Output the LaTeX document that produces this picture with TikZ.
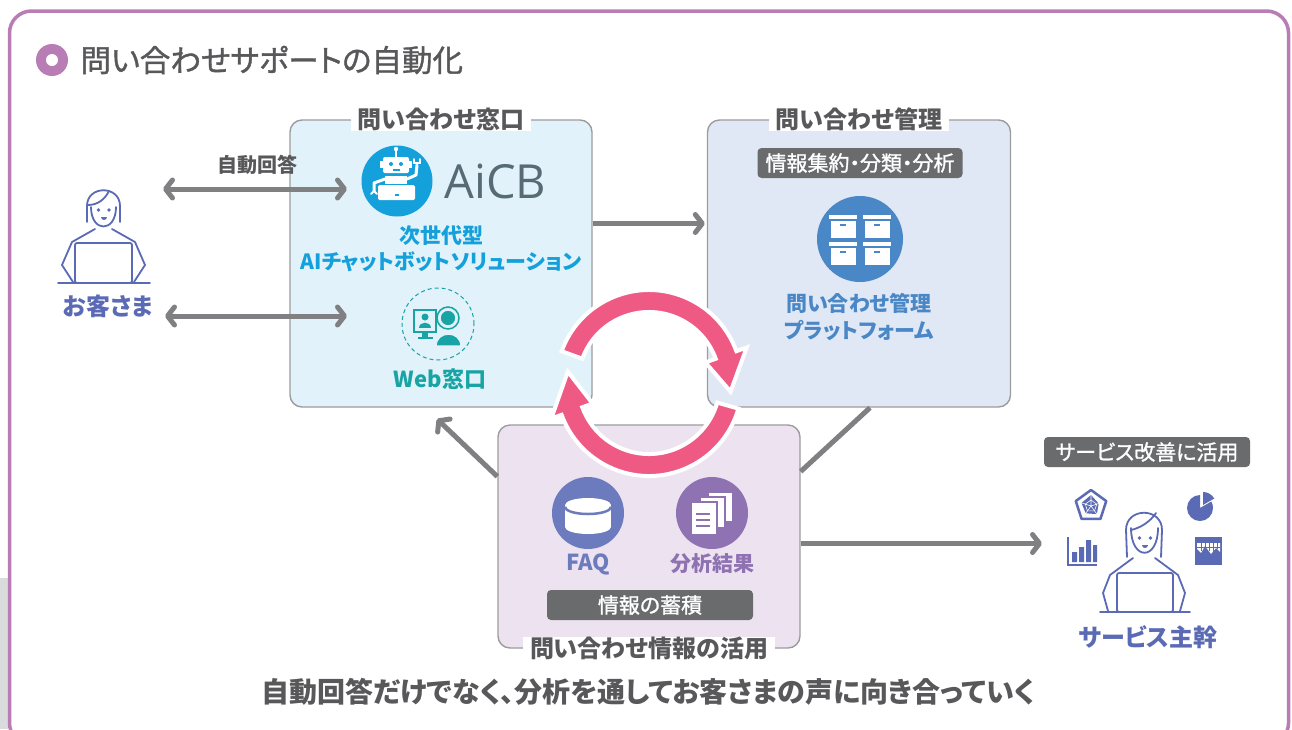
\documentclass[tikz,border=0pt]{standalone}
\usepackage{fontspec}
\setmainfont{Noto Sans CJK JP}[RawFeature=+palt]
\newfontfamily\medfont{Noto Sans CJK JP}[RawFeature=+palt,FakeBold=1.2]
\newfontfamily\logofont{Open Sans}
\usetikzlibrary{arrows.meta,positioning}

\definecolor{frame}{HTML}{B97DB6}
\definecolor{strip}{HTML}{DADBDD}
\definecolor{ink}{HTML}{58585A}
\definecolor{wire}{HTML}{808082}
\definecolor{edge}{HTML}{9C9C9E}
\definecolor{winbg}{HTML}{E1F2FA}
\definecolor{mgrbg}{HTML}{E1E8F5}
\definecolor{usebg}{HTML}{EDE3F0}
\definecolor{aiblue}{HTML}{14A0DB}
\definecolor{logo}{HTML}{566B73}
\definecolor{webteal}{HTML}{18A4A4}
\definecolor{mgrblue}{HTML}{4A87C6}
\definecolor{faqblue}{HTML}{6C7BBE}
\definecolor{resviolet}{HTML}{8F72B2}
\definecolor{people}{HTML}{5B6AB5}
\definecolor{tagbg}{HTML}{6A6B6D}
\definecolor{cyclepink}{HTML}{EF5A84}

\newcommand\fsz[1]{\fontsize{#1pt}{#1pt}\selectfont}

\begin{document}
\begin{tikzpicture}[x=1pt,y=-1pt,
  conn/.style={draw=wire,line width=5pt},
  tip/.style={-{Straight Barb[length=7pt,width=18pt,round]}},
  twotips/.style={{Straight Barb[length=7pt,width=18pt,round]}-{Straight Barb[length=7pt,width=18pt,round]}},
  panel/.style={draw=edge,line width=1.4pt,rounded corners=12pt,inner sep=0pt},
  paneltitle/.style={fill=white,text=ink,font=\fsz{24}\bfseries,inner xsep=7pt,inner ysep=0pt},
  tag/.style={fill=tagbg,text=white,rounded corners=4pt,font=\medfont\fsz{21},minimum height=30pt,inner sep=0pt},
  badge/.style={circle,inner sep=0pt,minimum size=#1},
  caption/.style={font=\fsz{21}\bfseries,inner sep=0pt},
  icon/.style={draw=people,line width=1.8pt,line join=round,line cap=round},
  ringarrow/.style={fill=cyclepink,draw=white,line width=4pt,line join=miter}]

\useasboundingbox (0,0) rectangle (1292,729);
\clip (0,0) rectangle (1292,729);
\fill[white] (0,0) rectangle (1292,729);
\fill[strip] (0,578) rectangle (8,729);

% outer frame and heading
\draw[draw=frame,line width=3.5pt,rounded corners=22pt] (9.5,11) rectangle (1288.5,745);
\fill[frame] (52,60) circle (16pt);
\fill[white] (52,60) circle (6pt);
\node[anchor=west,text=ink,font=\medfont\fsz{30.5}] (heading) at (77,60) {問い合わせサポートの自動化};

% the three panels
\node[panel,fill=winbg,minimum width=302pt,minimum height=287pt] (window) at (441,263.5) {};
\node[panel,fill=mgrbg,minimum width=303pt,minimum height=287pt] (manage) at (859,263.5) {};
\node[panel,fill=usebg,minimum width=302pt,minimum height=223pt] (store) at (649,536.5) {};
\node[paneltitle] (window-title) at (window.north) {問い合わせ窓口};
\node[paneltitle] (manage-title) at (manage.north) {問い合わせ管理};
\node[paneltitle] (store-title) at (store.south) {問い合わせ情報の活用};

% --- inquiry window: chatbot
\node[badge=71pt,fill=aiblue] (robot) at (397,181) {};
\begin{scope}[shift={(397,181)}]
  \fill[white] (-1,-32) circle (2.2pt);
  \draw[white,line width=1.5pt] (-1,-30) -- (-1,-24);
  \fill[white,rounded corners=2pt] (-14,-24) rectangle (12,-8);
  \fill[white] (-17,-20) rectangle (-14,-13);
  \fill[white] (12,-20) rectangle (15,-13);
  \fill[aiblue] (-6,-17) circle (2pt) (4,-17) circle (2pt);
  \fill[aiblue] (-4,-12) rectangle (3,-10.5);
  \fill[white] (-12,-5) rectangle (10,3);
  \draw[white,line width=3pt,line cap=round,line join=round] (-12,-2) -- (-23,2) -- (-23,10);
  \draw[white,line width=2pt,line cap=round] (-26,13) -- (-23,10) -- (-20,13);
  \draw[white,line width=3pt,line cap=round,line join=round] (10,-2) -- (19,-6) -- (20,-16);
  \draw[white,line width=2pt,line cap=round] (17,-22) -- (17,-18) -- (23,-18) -- (23,-22);
  \fill[white,rounded corners=1.5pt] (-19,4) rectangle (18,19);
  \fill[aiblue] (-2,13) rectangle (2,14.5);
\end{scope}
\node[anchor=west,text=logo,font=\logofont\fsz{47}] (aicb) at (441,181) {AiCB};
\node[caption,text=aiblue] (aicb-kind) at (441,236) {次世代型};
\node[caption,text=aiblue] (aicb-name) at (441,262) {AIチャットボットソリューション};

% --- inquiry window: web desk
\node[badge=72pt,draw=webteal,line width=1pt,dash pattern=on 4pt off 3pt] (webdesk) at (438,324) {};
\begin{scope}[shift={(438,324)}]
  \draw[webteal,line width=2pt] (-24,-14) rectangle (-2,8);
  \fill[webteal] (-13,-7) circle (3.5pt);
  \fill[webteal] (-19,4) .. controls (-19,-3) and (-7,-3) .. (-7,4) -- cycle;
  \fill[webteal] (-16,8) rectangle (-10,13);
  \fill[webteal] (-20,13) rectangle (-5,15);
  \draw[webteal,line width=1.5pt] (10,-6) circle (11pt);
  \filldraw[fill=webteal,draw=winbg,line width=1.5pt] (10,-6) circle (8pt);
  \filldraw[fill=webteal,draw=winbg,line width=1.5pt] (-2,22) .. controls (-2,6) and (23,6) .. (23,22) -- cycle;
\end{scope}
\node[caption,text=webteal,font=\fsz{22}\bfseries] (web-name) at (440,379) {Web窓口};

% --- customer
\draw[icon] (87,222) -- (87,206) .. controls (87,185) and (120,185) .. (120,206) -- (120,222);
\draw[icon] (91,207) .. controls (91,233) and (116,233) .. (116,207);
\draw[icon] (88,205) .. controls (98,205) and (105,199) .. (109,191);
\fill[people] (98.5,210) circle (1.9pt) (109,210) circle (1.9pt);
\fill[people] (101,217) .. controls (101,221) and (107,221) .. (107,217) -- cycle;
\draw[icon] (95,229) -- (72,242) -- (62,265) -- (73,282);
\draw[icon] (112,229) -- (135,242) -- (145,265) -- (134,282);
\draw[icon,fill=white,rounded corners=2pt] (75,243) rectangle (132,283);
\draw[icon] (58,283) -- (150,283);
\node[caption,text=people,font=\fsz{24}\bfseries] (customer) at (108,306) {お客さま};

\coordinate (talk-l) at (163,189);
\coordinate (talk-r) at (347,189);
\coordinate (web-l) at (165,316);
\coordinate (web-r) at (347,316);
\draw[conn,twotips] (talk-l) -- (talk-r);
\draw[conn,twotips] (web-l) -- (web-r);
\node[text=ink,font=\fsz{20}\bfseries] (auto-reply) at (257,165) {自動回答};

% --- inquiry management
\node[tag,minimum width=205pt] (manage-tag) at (860,163) {情報集約・分類・分析};
\node[badge=86pt,fill=mgrblue] (archive) at (860,239) {};
\begin{scope}[shift={(860,239)}]
  \foreach \bx/\by in {-31/-24, 3/-24, -31/3, 3/3} {
    \fill[white] (\bx,\by) rectangle ++(28,4);
    \fill[white] (\bx+1.5,\by+5.5) rectangle ++(25,17);
    \fill[mgrblue] (\bx+11,\by+9) rectangle ++(6,2);
  }
\end{scope}
\node[caption,text=mgrblue] (platform-1) at (859,303) {問い合わせ管理};
\node[caption,text=mgrblue] (platform-2) at (859,330) {プラットフォーム};

% --- stored knowledge
\node[badge=72pt,fill=faqblue] (faq) at (588,513) {};
\begin{scope}[shift={(588,513)}]
  \fill[white] (-23,-8) rectangle (23,14);
  \fill[white] (0,14) ellipse [x radius=23, y radius=7];
  \fill[white] (0,-8) ellipse [x radius=23, y radius=7];
  \draw[faqblue,line width=2.5pt] (-23,-6) arc[start angle=180,end angle=0,x radius=23,y radius=7];
\end{scope}
\node[badge=72pt,fill=resviolet] (results) at (712,513) {};
\begin{scope}[shift={(712,513)}]
  \filldraw[fill=white,draw=resviolet,line width=1.6pt] (-4,-21) rectangle (21,9);
  \filldraw[fill=white,draw=resviolet,line width=1.6pt] (-12,-16) rectangle (13,15);
  \filldraw[fill=white,draw=resviolet,line width=1.6pt] (-21,-11) rectangle (5,22);
  \draw[resviolet,line width=1.6pt] (-16,1) -- (-2,1) (-16,7) -- (-2,7) (-16,13) -- (-2,13);
\end{scope}
\node[caption,text=faqblue,font=\fsz{22}\bfseries] (faq-name) at (588,564) {FAQ};
\node[caption,text=resviolet] (results-name) at (712,564) {分析結果};
\node[tag,minimum width=206pt] (store-tag) at (650,605) {情報の蓄積};

% --- service owner
\node[tag,minimum width=206pt] (service-tag) at (1147,452) {サービス改善に活用};
\draw[icon] (1127,557) -- (1126,530) .. controls (1126,507) and (1162,507) .. (1162,530) -- (1161,557);
\draw[icon] (1131,528) .. controls (1131,561) and (1158,561) .. (1158,528);
\draw[icon] (1131,530) .. controls (1140,528) and (1150,522) .. (1156,513);
\fill[people] (1139.5,538) circle (1.9pt) (1150.5,538) circle (1.9pt);
\fill[people] (1142,545) .. controls (1142,549) and (1148,549) .. (1148,545) -- cycle;
\draw[icon] (1133,558) -- (1110,575) -- (1103,593) -- (1108,611);
\draw[icon] (1155,558) -- (1178,575) -- (1185,593) -- (1180,611);
\draw[icon,fill=white,rounded corners=2pt] (1117,573) rectangle (1173,612);
\draw[icon] (1100,612) -- (1190,612);
\begin{scope}[shift={(1091,506)}]
  \filldraw[fill=white,draw=people,line width=2.5pt,line join=round] (-90:16) -- (-18:16) -- (54:16) -- (126:16) -- (198:16) -- cycle;
  \fill[people] (-90:11) -- (-18:8) -- (54:10) -- (126:9) -- (198:10) -- cycle;
  \draw[white,line width=0.6pt] (0,0) -- (-90:11) (0,0) -- (-18:11) (0,0) -- (54:11) (0,0) -- (126:11) (0,0) -- (198:11);
  \draw[white,line width=0.6pt] (-90:6) -- (-18:6) -- (54:6) -- (126:6) -- (198:6) -- cycle;
\end{scope}
\begin{scope}[shift={(1200,508)}]
  \fill[people] (0,0) -- (-90:13) arc[start angle=-90,end angle=-390,radius=13] -- cycle;
  \fill[people,shift={(3,-3)}] (0,0) -- (-30:13) arc[start angle=-30,end angle=-90,radius=13] -- cycle;
\end{scope}
\draw[people,line width=1.5pt] (1068,537) -- (1068,565) -- (1097,565);
\fill[people] (1072,552) rectangle (1077,562) (1079,547) rectangle (1084,562) (1086,540) rectangle (1091,562) (1093,545) rectangle (1097,562);
\fill[people] (1195,537) rectangle (1222,565);
\fill[white] (1197,543) -- (1220,543) -- (1220,552) -- (1216,548) -- (1211,554) -- (1205,546) -- (1201,553) -- (1197,549) -- cycle;
\draw[people,line width=0.8pt] (1201,543) -- (1201,551) (1205,543) -- (1205,547) (1209,543) -- (1209,551) (1213,543) -- (1213,552) (1217,543) -- (1217,549) (1197,547) -- (1220,547);
\node[caption,text=people,font=\fsz{24}\bfseries] (service) at (1148,637) {サービス主幹};

% --- flow between the panels
\coordinate (back-tip) at (437,419);
\coordinate (service-in) at (1042,543.5);
\draw[conn,tip] ([yshift=40pt]window.east) -- ([yshift=40pt,xshift=-2pt]manage.west);
\draw[conn] ([xshift=11pt]manage.south) -- ([yshift=65pt]store.east);
\draw[conn,tip] ([yshift=60pt]store.west) -- (back-tip);
\draw[conn,tip] ([yshift=-7pt]store.east) -- (service-in);

% --- improvement cycle
\begin{scope}[shift={(649,383)}]
  \filldraw[ringarrow] (-160:93) arc[start angle=-160,end angle=-20,radius=93] -- (-20:104) -- (6:82) -- (-20:60) -- (-20:71) arc[start angle=-20,end angle=-160,radius=71] -- cycle;
  \filldraw[ringarrow] (16:93) arc[start angle=16,end angle=160,radius=93] -- (160:104) -- (188:82) -- (160:60) -- (160:71) arc[start angle=160,end angle=16,radius=71] -- cycle;
\end{scope}

\node[text=ink,font=\fsz{28}\bfseries] (motto) at (648,692) {自動回答だけでなく、分析を通してお客さまの声に向き合っていく};
\end{tikzpicture}
\end{document}
